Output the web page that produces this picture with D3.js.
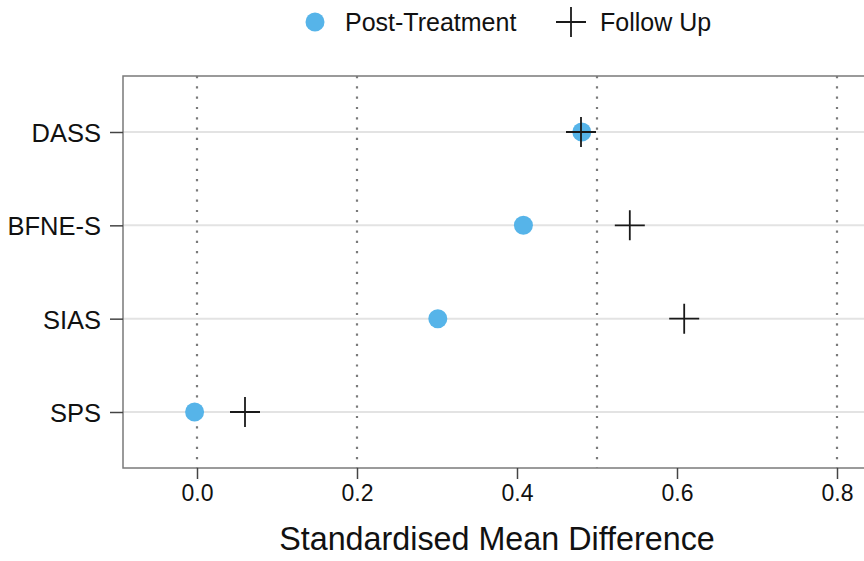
<!DOCTYPE html>
<html>
<head>
<meta charset="utf-8">
<script src="https://cdn.jsdelivr.net/npm/d3@7"></script>
<style>
  body { margin: 0; background: #fff; }
  text { font-family: "Liberation Sans", Arial, sans-serif; fill: #111; }
</style>
</head>
<body>
<div id="chart"></div>
<script>
// measures, top to bottom
const measures = ["DASS", "BFNE-S", "SIAS", "SPS"]
const postTreatment = [0.481, 0.408, 0.301, -0.003]
const followUp = [0.480, 0.541, 0.609, 0.060]
const xTicks = [0.0, 0.2, 0.4, 0.6, 0.8]
const refLines = [0.0, 0.2, 0.5, 0.8]

var width = 864,
    height = 561

var svg = d3.select("#chart").append("svg")
    .attr("width", width)
    .attr("height", height)

var pLeft = 123, pTop = 76, pBottom = 468

var x = d3.scaleLinear()
    .domain([-0.0925, 0.9])
    .range([pLeft, pLeft + 0.9925 * 800])

var y = d3.scalePoint()
    .domain(measures)
    .range([132, 412])

// horizontal grid
svg.append("g")
    .selectAll("line")
    .data(measures)
    .enter()
    .append("line")
    .attr("x1", pLeft).attr("x2", x.range()[1])
    .attr("y1", d => y(d)).attr("y2", d => y(d))
    .attr("stroke", "#e3e3e3")
    .attr("stroke-width", 2)

// dotted reference lines
svg.append("g")
    .selectAll("line")
    .data(refLines)
    .enter()
    .append("line")
    .attr("x1", d => x(d)).attr("x2", d => x(d))
    .attr("y1", pTop).attr("y2", pBottom)
    .attr("stroke", "#7a7a7a")
    .attr("stroke-width", 2.2)
    .attr("stroke-dasharray", "2.2,8.1")

// panel border
svg.append("rect")
    .attr("x", pLeft).attr("y", pTop)
    .attr("width", x.range()[1] - pLeft).attr("height", pBottom - pTop)
    .attr("fill", "none")
    .attr("stroke", "#7a7a7a")
    .attr("stroke-width", 1.5)

// x axis
var xAxis = svg.append("g")
    .attr("transform", "translate(0," + pBottom + ")")
    .call(d3.axisBottom(x).tickValues(xTicks).tickFormat(d3.format(".1f")).tickSize(11).tickPadding(6))
xAxis.select(".domain").remove()
xAxis.selectAll("line").attr("stroke", "#444").attr("stroke-width", 1.5)
xAxis.selectAll("text").style("font-size", "23px").attr("fill", "#111")

// y axis
var yAxis = svg.append("g")
    .attr("transform", "translate(" + pLeft + ",0)")
    .call(d3.axisLeft(y).tickSize(13).tickPadding(9))
yAxis.select(".domain").remove()
yAxis.selectAll("line").attr("stroke", "#444").attr("stroke-width", 1.5)
yAxis.selectAll("text").style("font-size", "25.5px").attr("fill", "#111").attr("dy", "0.37em")

// post-treatment points
svg.append("g")
    .selectAll("circle")
    .data(measures)
    .enter()
    .append("circle")
    .attr("cx", (d, i) => x(postTreatment[i]))
    .attr("cy", d => y(d))
    .attr("r", 9.5)
    .attr("fill", "#56B4E9")

// follow up crosses
svg.append("g")
    .selectAll("path")
    .data(measures)
    .enter()
    .append("path")
    .attr("d", (d, i) => "M" + (x(followUp[i]) - 15) + "," + y(d) + "h30M" + x(followUp[i]) + "," + (y(d) - 15) + "v30")
    .attr("stroke", "#1a1a1a")
    .attr("stroke-width", 1.8)
    .attr("fill", "none")

// axis title
svg.append("text")
    .attr("x", 497).attr("y", 550)
    .attr("text-anchor", "middle")
    .style("font-size", "32.3px")
    .text("Standardised Mean Difference")

// legend
var leg = svg.append("g")
leg.append("circle").attr("cx", 315).attr("cy", 22).attr("r", 9.5).attr("fill", "#56B4E9")
leg.append("text").attr("x", 345).attr("y", 31).style("font-size", "25px").text("Post-Treatment")
leg.append("path").attr("d", "M556,22h30M571,7v30").attr("stroke", "#1a1a1a").attr("stroke-width", 1.8)
leg.append("text").attr("x", 600).attr("y", 31).style("font-size", "25px").text("Follow Up")
</script>
</body>
</html>
